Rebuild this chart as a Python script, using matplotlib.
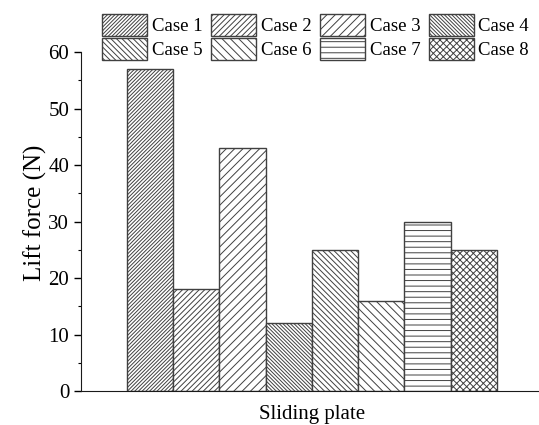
import matplotlib
matplotlib.use("Agg")
import matplotlib.pyplot as plt
from matplotlib.ticker import MultipleLocator

# ---- data -----------------------------------------------------------------
cases = ["Case 1", "Case 2", "Case 3", "Case 4", "Case 5", "Case 6", "Case 7", "Case 8"]
lift = [57, 18, 43, 12, 25, 16, 30, 25]
hatches = ["/" * 9, "/" * 6, "/" * 4, "\\" * 9, "\\" * 6, "\\" * 4, "---", "xxxxx"]

plt.rcParams["font.family"] = ["Liberation Serif", "DejaVu Serif"]
plt.rcParams["hatch.linewidth"] = 0.7

fig = plt.figure(figsize=(5.39, 4.25), dpi=100)
ax = fig.add_axes([81 / 539, 34 / 425, 458 / 539, 339 / 425])

bars = []
for i, (c, v, h) in enumerate(zip(cases, lift, hatches)):
    b = ax.bar(i, v, width=1.0, facecolor="white", edgecolor="0.25", linewidth=1.0,
               hatch=h, label=c)
    bars.append(b)

ax.set_xlim(-1.495, 8.41)
ax.set_ylim(0, 60)
ax.yaxis.set_major_locator(MultipleLocator(10))
ax.yaxis.set_minor_locator(MultipleLocator(5))
ax.tick_params(axis="y", which="major", direction="out", length=5, width=1, labelsize=15)
ax.tick_params(axis="y", which="minor", direction="out", length=2.5, width=0.8)
ax.set_xticks([])
for s in ("top", "right"):
    ax.spines[s].set_visible(False)
ax.spines["left"].set_color("0.1")
ax.spines["bottom"].set_color("0.1")

ax.set_ylabel("Lift force (N)", fontsize=18)
ax.yaxis.set_label_coords(-0.074, (391 - 213) / 339)
ax.set_xlabel("Sliding plate", fontsize=15)
ax.xaxis.set_label_coords((312 - 81) / 458, -0.04)
ax.xaxis.label.set_va("top")

# legend filled row by row (matplotlib fills by column)
order = [0, 4, 1, 5, 2, 6, 3, 7]
fig.legend([bars[k] for k in order], [cases[k] for k in order],
           loc="upper left", bbox_to_anchor=(102 / 539, 1 - 14 / 425), ncol=4,
           frameon=False, fontsize=13.5, handlelength=2.4, handleheight=1.4,
           handletextpad=0.25, columnspacing=0.46, labelspacing=0.12, borderpad=0,
           borderaxespad=0)

fig.savefig("out.png", dpi=100)
